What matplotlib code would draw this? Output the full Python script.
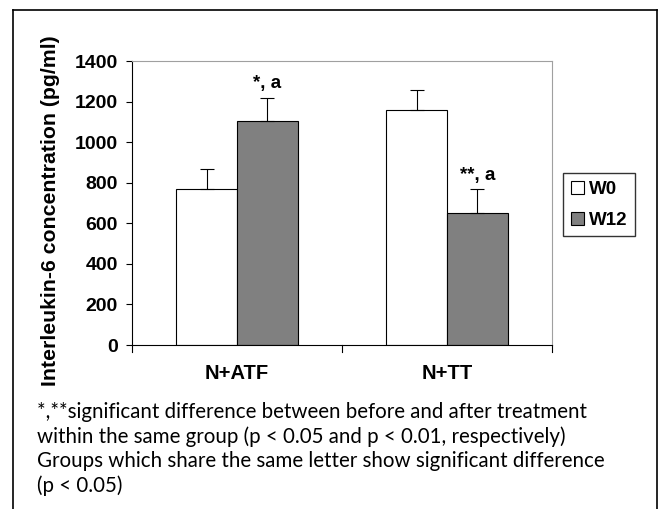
import matplotlib.pyplot as plt
import numpy as np

# data
groups = ["N+ATF", "N+TT"]
series = ["W0", "W12"]
w0_mean = [770, 1160]
w0_err = [100, 95]
w12_mean = [1105, 650]
w12_err = [115, 120]
w12_marks = ["*, a", "**, a"]
yticks = [0, 200, 400, 600, 800, 1000, 1200, 1400]
caption = [
    "*,**significant difference between before and after treatment",
    "within the same group (p < 0.05 and p < 0.01, respectively)",
    "Groups which share the same letter show significant difference",
    "(p < 0.05)",
]

W, H = 661, 509
fig = plt.figure(figsize=(W / 100, H / 100), dpi=100)
bold = dict(fontweight="bold", family="Liberation Sans")

# outer frame (open at the bottom)
L, T, R = 13 / W, 1 - 10 / H, 657 / W
fig.add_artist(plt.Line2D([L, L], [0, T], color="black", lw=1.2))
fig.add_artist(plt.Line2D([L, R], [T, T], color="black", lw=1.2))
fig.add_artist(plt.Line2D([R, R], [0, T], color="black", lw=1.2))

ax = fig.add_axes([132 / W, 1 - 345 / H, 420 / W, 284 / H])

x = np.arange(len(groups))
bw = 0.29
ax.bar(x - bw / 2, w0_mean, bw, color="white", edgecolor="black", lw=0.8, label=series[0])
ax.bar(x + bw / 2, w12_mean, bw, color="#808080", edgecolor="black", lw=0.8, label=series[1])
ax.errorbar(x - bw / 2, w0_mean, yerr=[np.zeros(2), w0_err], fmt="none",
            ecolor="black", elinewidth=0.8, capsize=5, capthick=0.8)
ax.errorbar(x + bw / 2, w12_mean, yerr=[np.zeros(2), w12_err], fmt="none",
            ecolor="black", elinewidth=0.8, capsize=5, capthick=0.8)

for xi, m, e, t in zip(x, w12_mean, w12_err, w12_marks):
    ax.text(xi + bw / 2, m + e + 25, t, ha="center", va="bottom", fontsize=13.5, **bold)

ax.set_xlim(-0.5, 1.5)
ax.set_ylim(0, 1400)
ax.set_yticks(yticks)
ax.set_yticklabels([str(v) for v in yticks], fontsize=14, **bold)
ax.set_xticks(x)
ax.set_xticklabels(groups, fontsize=14.5, **bold)
ax.tick_params(axis="x", length=0, pad=14)
ax.tick_params(axis="y", direction="out", length=4.3, width=0.8, pad=6)
# category separators on the x axis
for xs in [-0.5, 0.5, 1.5]:
    ax.plot([xs, xs], [0, -35], color="black", lw=0.8, clip_on=False)

for side in ["top", "right"]:
    ax.spines[side].set_color("#a0a0a0")
ax.spines["left"].set_linewidth(0.8)
ax.spines["bottom"].set_linewidth(0.8)

ax.set_ylabel("Interleukin-6 concentration (pg/ml)", fontsize=15.3, va="center", ha="center", **bold)
ax.yaxis.set_label_coords(-0.195, 0.473)

leg = fig.legend(loc="upper left", bbox_to_anchor=(563 / W, 1 - 173 / H),
                 frameon=True, fancybox=False, edgecolor="black", handlelength=0.7,
                 handleheight=0.7, handletextpad=0.3, borderpad=0.4, labelspacing=0.75,
                 borderaxespad=0, prop={"family": "Liberation Sans", "weight": "bold", "size": 13.5})
leg.get_frame().set_linewidth(1.0)

for i, line in enumerate(caption):
    fig.text(37 / W, 1 - (412 + i * 24.5) / H, line, fontsize=14.8, family="Lato",
             va="center", ha="left")

fig.savefig("out.png", dpi=100)
